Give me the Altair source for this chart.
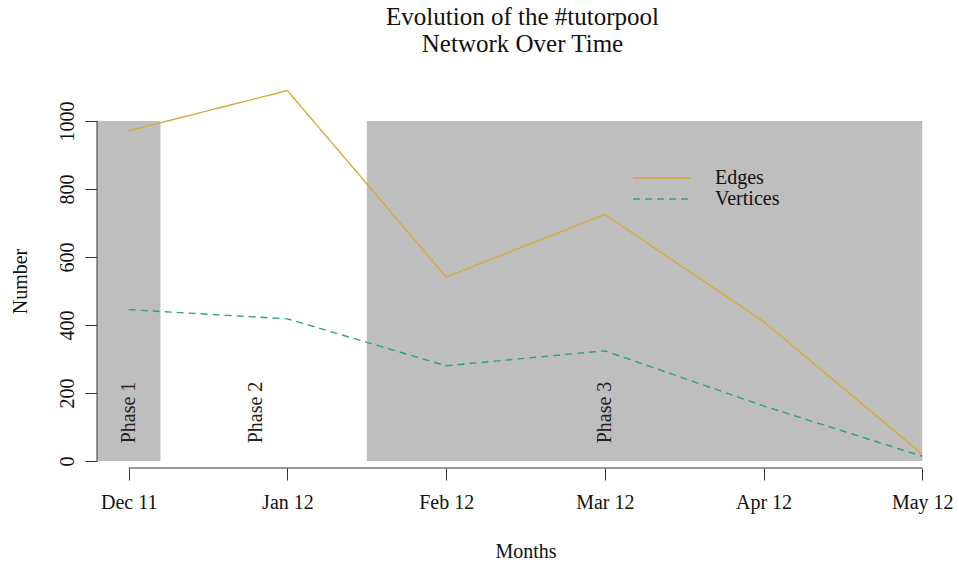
import json

import altair as alt
import pandas as pd

# Monthly network size
months = ["Dec 11", "Jan 12", "Feb 12", "Mar 12", "Apr 12", "May 12"]
edges = [971, 1089, 541, 725, 410, 20]
vertices = [445, 418, 280, 324, 162, 14]

# Shaded phases (month index units) and their labels
shade_start = [-0.2, 1.5]
shade_end = [0.2, 5]
shade_low = [0, 0]
shade_high = [1000, 1000]
phase_names = ["Phase 1", "Phase 2", "Phase 3"]
phase_x = [0, 0.8, 3]
phase_y = [52, 52, 52]

y_ticks = [0, 200, 400, 600, 800, 1000]
x_domain = [-0.2, 5.2]
y_domain = [-20.6, 1132]

FONT = "Liberation Serif"
GOLD = "#D3AC3A"
TEAL = "#2FA283"
AXIS_COL = "#333333"
TEXT_COL = "#111111"

series = ["Edges", "Vertices"]
lines_df = pd.DataFrame(
    {
        "x": list(range(len(months))) * 2,
        "y": edges + vertices,
        "series": [series[0]] * len(edges) + [series[1]] * len(vertices),
    }
)
shade_df = pd.DataFrame({"x": shade_start, "x2": shade_end, "y": shade_low, "y2": shade_high})
phase_df = pd.DataFrame({"label": phase_names, "x": phase_x, "y": phase_y})
# axis lines span the tick range only
axis_df = pd.DataFrame(
    {
        "x": [0, x_domain[0]],
        "x2": [len(months) - 1, x_domain[0]],
        "y": [y_domain[0], y_ticks[0]],
        "y2": [y_domain[0], y_ticks[-1]],
    }
)

label_expr = json.dumps(months) + "[datum.value]"

x_scale = alt.Scale(domain=x_domain, nice=False, zero=False)
y_scale = alt.Scale(domain=y_domain, nice=False, zero=False)

x_axis = alt.Axis(
    values=list(range(len(months))),
    labelExpr=label_expr,
    domain=False,
    grid=False,
    tickSize=12,
    tickColor=AXIS_COL,
    labelFontSize=20,
    labelFont=FONT,
    labelColor=TEXT_COL,
    labelPadding=12,
    labelBaseline="top",
    labelOverlap=False,
    labelFlush=False,
    title="Months",
    titleFont=FONT,
    titleFontSize=20,
    titleFontWeight="normal",
    titleColor=TEXT_COL,
    titleBaseline="alphabetic",
    titleY=89,
)
y_axis = alt.Axis(
    values=y_ticks,
    format="d",
    domain=False,
    grid=False,
    tickSize=12,
    tickColor=AXIS_COL,
    labelAngle=270,
    labelAlign="center",
    labelBaseline="alphabetic",
    labelPadding=12,
    labelFontSize=20,
    labelFont=FONT,
    labelColor=TEXT_COL,
    labelOverlap=False,
    labelFlush=False,
    title="Number",
    titleFont=FONT,
    titleFontSize=20,
    titleFontWeight="normal",
    titleColor=TEXT_COL,
    titleAngle=270,
    titleAlign="center",
    titleBaseline="alphabetic",
    titleX=-71,
    titleY=205,
)


def xq(field):
    return alt.X(f"{field}:Q", scale=x_scale, axis=x_axis)


def yq(field):
    return alt.Y(f"{field}:Q", scale=y_scale, axis=y_axis)


# legend key: a long horizontal stroke on a small nominal symbol size
legend = alt.Legend(
    title=None,
    orient="none",
    legendX=554,
    legendY=91,
    symbolType="M-2.9,0H2.9",
    symbolSize=400,
    symbolStrokeWidth=1.5,
    symbolFillColor="transparent",
    labelOffset=42,
    labelFont=FONT,
    labelFontSize=20,
    labelColor=TEXT_COL,
    rowPadding=0,
    padding=0,
)

shade = (
    alt.Chart(shade_df)
    .mark_rect(color="#BEBEBE")
    .encode(x=xq("x"), x2="x2:Q", y=yq("y"), y2="y2:Q")
)

lines = (
    alt.Chart(lines_df)
    .mark_line(strokeWidth=1.4)
    .encode(
        x=xq("x"),
        y=yq("y"),
        color=alt.Color("series:N", scale=alt.Scale(domain=series, range=[GOLD, TEAL]), legend=legend),
        strokeDash=alt.StrokeDash(
            "series:N", scale=alt.Scale(domain=series, range=[[1, 0], [7, 5]]), legend=legend
        ),
    )
)

phase_text = (
    alt.Chart(phase_df)
    .mark_text(angle=270, align="left", baseline="middle", font=FONT, fontSize=20, color="#222222")
    .encode(x=xq("x"), y=yq("y"), text="label:N")
)

axis_lines = (
    alt.Chart(axis_df)
    .mark_rule(color=AXIS_COL, strokeWidth=1)
    .encode(x=xq("x"), x2="x2:Q", y=yq("y"), y2="y2:Q")
)

chart = (
    alt.layer(shade, phase_text, lines, axis_lines)
    .properties(
        width=857,
        height=392,
        padding={"left": 97, "top": 76, "right": 5, "bottom": 97},
        autosize=alt.AutoSizeParams(type="none"),
        view=alt.ViewBackground(stroke="transparent", strokeWidth=0),
        title=alt.TitleParams(
            ["Evolution of the #tutorpool", "Network Over Time"],
            font=FONT,
            fontSize=25,
            fontWeight="normal",
            color=TEXT_COL,
            lineHeight=27,
            offset=19,
            anchor="middle",
            dx=-3,
        ),
    )
    .configure_view(stroke="transparent", strokeWidth=0)
    .configure(background="white")
)

chart.save("out.html", embed_options={"renderer": "svg", "actions": False})
